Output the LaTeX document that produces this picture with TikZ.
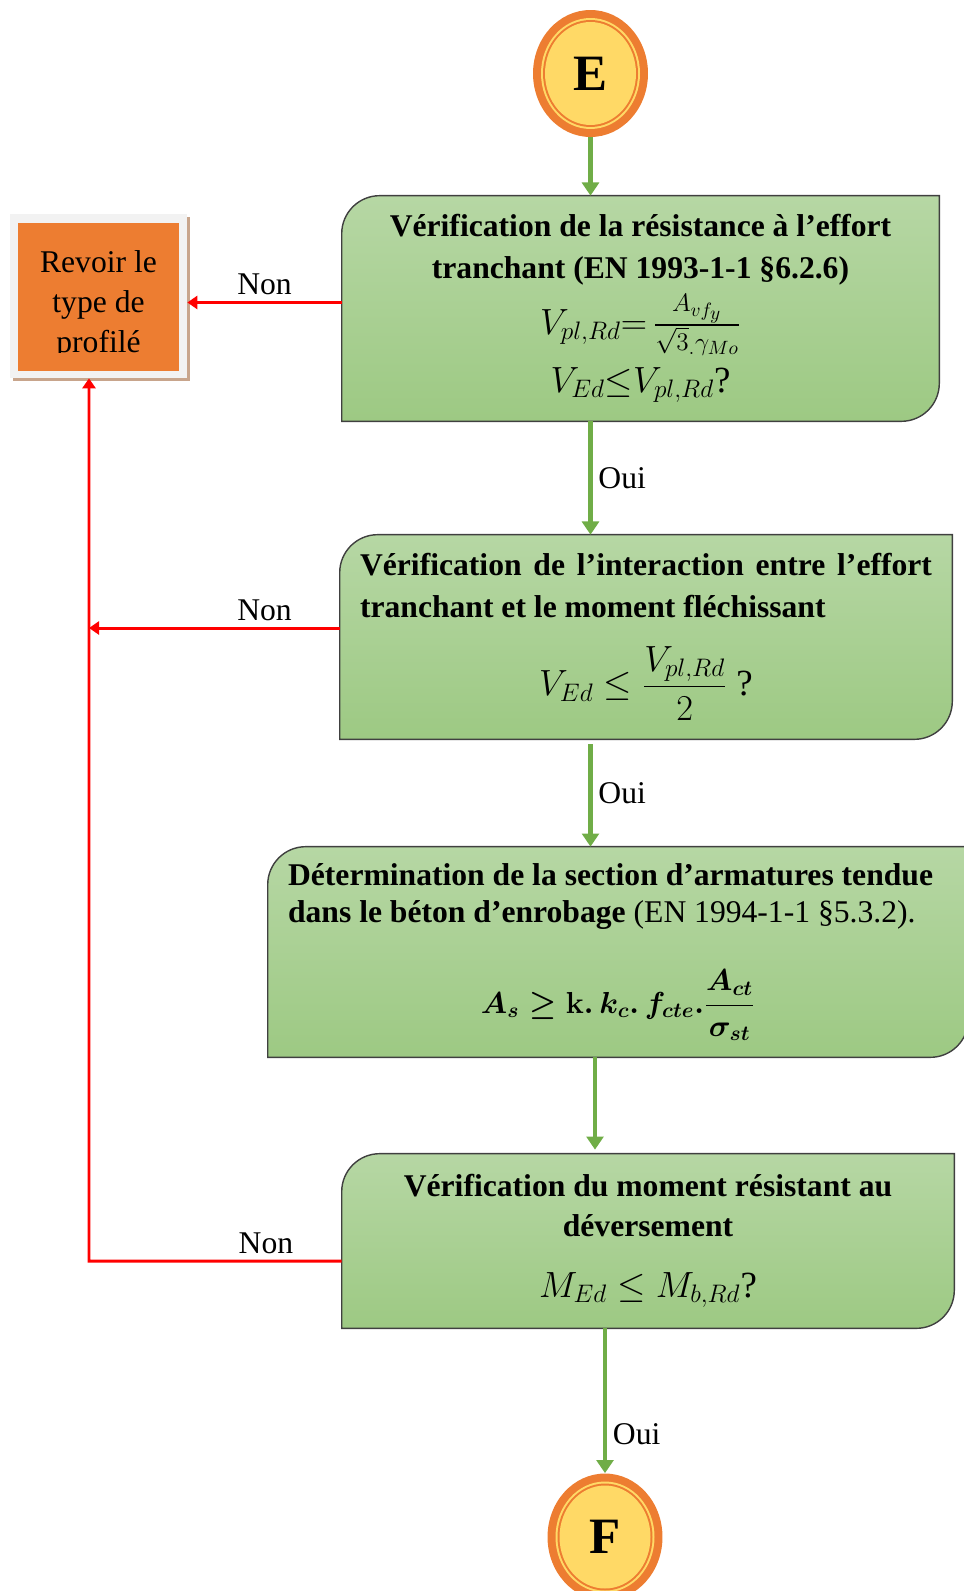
\documentclass[tikz,border=0pt]{standalone}
\usepackage{fontspec}
\setmainfont{Liberation Serif}
\usepackage{amsmath}
\usetikzlibrary{arrows.meta,shapes.geometric,shadows,backgrounds}
\setlength\parindent{0pt}

\definecolor{gtop}{RGB}{182,215,164}
\definecolor{gbot}{RGB}{157,201,131}
\definecolor{garrow}{RGB}{112,173,71}
\definecolor{orng}{RGB}{237,125,49}
\definecolor{yel}{RGB}{255,217,102}
\definecolor{framegray}{RGB}{242,242,242}
\definecolor{shadowbrown}{RGB}{200,165,140}

\newcommand\rcorner{0.76cm}
\newcommand\bigmath{\fontsize{21}{24}\selectfont}
% green box with two rounded corners, drawn behind the node
\newcommand\greenframe[1]{%
  \draw[boxline,top color=gtop,bottom color=gbot]
    (#1.south west) -- ([yshift=-\rcorner]#1.north west)
    arc[start angle=180,end angle=90,radius=\rcorner]
    -- (#1.north east) -- ([yshift=\rcorner]#1.south east)
    arc[start angle=0,end angle=-90,radius=\rcorner] -- cycle;}

\tikzset{
  terminal/.style={ellipse,fill=orng,minimum width=2.3cm,minimum height=2.54cm,
    inner sep=0pt,font=\fontsize{29}{30}\selectfont\bfseries,
    path picture={
      \fill[yel] (path picture bounding box.center) ellipse[x radius=0.99cm,y radius=1.11cm];
      \fill[orng] (path picture bounding box.center) ellipse[x radius=0.95cm,y radius=1.07cm];
      \fill[yel] (path picture bounding box.center) ellipse[x radius=0.91cm,y radius=1.03cm];}},
  greenbox/.style={inner sep=0pt,font=\fontsize{18}{24}\selectfont},
  boxline/.style={draw=black!75,line width=0.8pt},
  revframe/.style={fill=framegray,minimum width=3.54cm,minimum height=3.28cm,
    drop shadow={shadow xshift=0.06cm,shadow yshift=-0.06cm,fill=shadowbrown,opacity=1}},
  revfill/.style={fill=orng,minimum width=3.22cm,minimum height=2.96cm},
  revtext/.style={inner sep=0pt,align=center,font=\fontsize{18}{22.7}\selectfont},
  lab/.style={font=\fontsize{18}{20}\selectfont},
  gline/.style={draw=garrow,line width=2.4pt,-{Triangle[length=7.5pt,width=9.6pt]}},
  rline/.style={draw=red,line width=1.7pt,-{Triangle[length=5.7pt,width=7.4pt]}}
}

\begin{document}
\begin{tikzpicture}[x=0.02cm,y=-0.02cm]
\useasboundingbox (0,0) rectangle (963,1591);

\node[terminal] (E) at (590.5,73.5) {E};

\node[greenbox,minimum width=11.94cm,minimum height=4.5cm,text width=11.5cm,align=flush center] (b1) at (640.5,308.5)
  {\bfseries Vérification de la résistance à l’effort\\ tranchant (EN 1993-1-1 §6.2.6)\\[4pt]
   \mdseries\bigmath $V_{pl,Rd}{=}\,\frac{A_{vf_y}}{\sqrt{3}_{.}\gamma_{Mo}}$\\[6pt]
   $V_{Ed}{\leq}V_{pl,Rd}$?};

\node[greenbox,minimum width=12.24cm,minimum height=4.08cm,text width=11.44cm,align=justify] (b2) at (646,637)
  {\bfseries Vérification de l’interaction entre l’effort tranchant et le moment fléchissant\par
   \vspace{15pt}\centering\mdseries\bigmath $V_{Ed}\leq\dfrac{V_{pl,Rd}}{2}$ ?\par};

\node[greenbox,font=\fontsize{18}{21}\selectfont,minimum width=14cm,minimum height=4.2cm,text width=13.2cm,align=flush left] (b3) at (618,952)
  {{\bfseries Détermination de la section d’armatures tendue\\ dans le béton d’enrobage} (EN 1994-1-1 §5.3.2).\par
   \vspace{22pt}{\centering\boldmath$A_s\geq\mathbf{k}.\,k_c.\,f_{cte}.\dfrac{A_{ct}}{\sigma_{st}}$\par}};

\node[greenbox,font=\fontsize{18}{22.7}\selectfont,minimum width=12.24cm,minimum height=3.48cm,text width=11.5cm,align=flush center] (b4) at (648,1241)
  {\bfseries Vérification du moment résistant au\\ déversement\\[12pt]
   \mdseries\bigmath $M_{Ed}\leq M_{b,Rd}$?};

\node[terminal] (F) at (605,1537) {F};

\begin{pgfonlayer}{background}
\greenframe{b1}
\greenframe{b2}
\greenframe{b3}
\greenframe{b4}
\end{pgfonlayer}

% box on the left
\node[revframe] (rev) at (98.5,296) {};
\node[revfill] (revin) at (98.5,297) {};
\begin{scope}
\clip (18,223) rectangle (179,352);
\node[revtext,anchor=north] (revtxt) at (98.5,250) {Revoir le\\type de\\profilé};
\end{scope}

% oui
\draw[gline] (E) -- (E |- b1.north);
\draw[gline] (b1.south -| E) -- node[lab,right]{Oui} (b2.north -| E);
\draw[gline,shorten <=0.1cm] (b2.south -| E) -- node[lab,right]{Oui} (b3.north -| E);
\draw[gline,shorten >=0.08cm] ([xshift=0.09cm]b3.south -| E) -- ([xshift=0.09cm]b4.north -| E);
\draw[gline] (b4.south -| F) -- node[lab,right,pos=0.73]{Oui} (F);

% non
\coordinate (turn) at (89,1261);
\draw[rline] ([yshift=0.12cm]b1.west) coordinate (n1) -- node[lab,above]{Non} (n1 -| rev.east);
\draw[rline] ([yshift=0.18cm]b2.west) coordinate (n2) -- node[lab,above,pos=0.3]{Non} (n2 -| turn);
\draw[rline] ([yshift=-0.4cm]b4.west) -- node[lab,above,pos=0.3]{Non} (turn) -- (turn |- rev.south);
\end{tikzpicture}
\end{document}
